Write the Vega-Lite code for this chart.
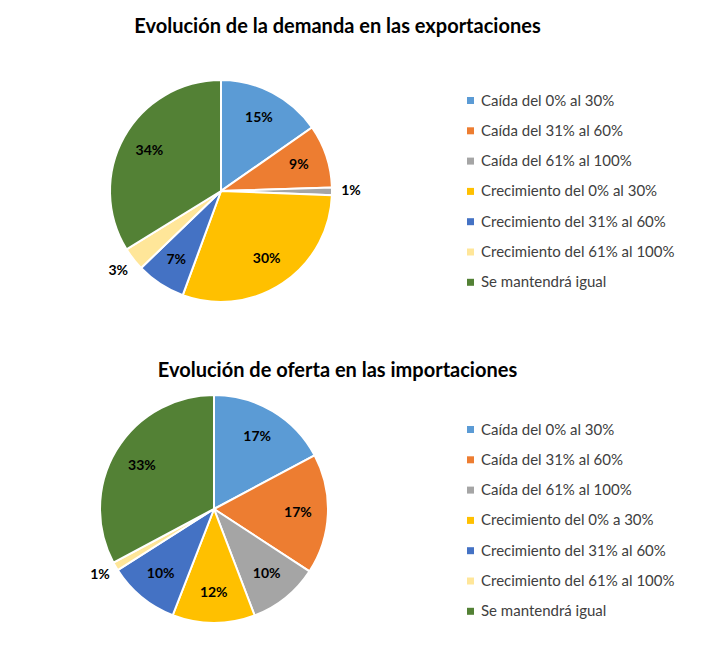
{
  "$schema": "https://vega.github.io/schema/vega-lite/v6.json",
  "background": "white",
  "padding": {"left": 0, "top": 16, "right": 0, "bottom": 0},
  "config": {"view": {"stroke": null}, "font": "Lato", "concat": {"spacing": 53}},
  "resolve": {"scale": {"color": "independent", "theta": "independent"}, "legend": {"color": "independent"}},
  "vconcat": [
    {
      "width": 442,
      "height": 222,
      "title": {"text": "Evolución de la demanda en las exportaciones", "frame": "bounds", "anchor": "middle", "fontSize": 20, "fontWeight": "bold", "color": "#000000", "offset": 32},
      "data": {"values": [
        {"orden": 1, "categoria": "Caída del 0% al 30%", "share": 0.153},
        {"orden": 2, "categoria": "Caída del 31% al 60%", "share": 0.092},
        {"orden": 3, "categoria": "Caída del 61% al 100%", "share": 0.011},
        {"orden": 4, "categoria": "Crecimiento del 0% al 30%", "share": 0.300},
        {"orden": 5, "categoria": "Crecimiento del 31% al 60%", "share": 0.072},
        {"orden": 6, "categoria": "Crecimiento del 61% al 100%", "share": 0.034},
        {"orden": 7, "categoria": "Se mantendrá igual", "share": 0.338}
      ]},
      "encoding": {
        "theta": {"field": "share", "type": "quantitative", "stack": true},
        "order": {"field": "orden", "type": "quantitative"}
      },
      "layer": [
        {
          "mark": {"type": "arc", "radius": 111, "stroke": "white", "strokeWidth": 2},
          "encoding": {
            "color": {
              "field": "categoria", "type": "nominal",
              "scale": {
                "domain": ["Caída del 0% al 30%", "Caída del 31% al 60%", "Caída del 61% al 100%", "Crecimiento del 0% al 30%", "Crecimiento del 31% al 60%", "Crecimiento del 61% al 100%", "Se mantendrá igual"],
                "range": ["#5B9BD5", "#ED7D31", "#A5A5A5", "#FFC000", "#4472C4", "#FFE699", "#538135"]
              },
              "legend": {"orient": "none", "legendX": 463, "legendY": 13, "title": null, "symbolType": "square", "symbolSize": 49, "symbolStrokeWidth": 0, "labelFontSize": 15, "labelLimit": 0, "labelColor": "#404040", "rowPadding": 14.3, "labelOffset": 3}
            }
          }
        },
        {
          "mark": {"type": "text", "radius": 82, "fontWeight": "bold", "fontSize": 14, "color": "#000000"},
          "encoding": {
            "text": {"condition": {"test": "datum.share >= 0.05", "field": "share", "type": "quantitative", "format": ".0%"}, "value": ""}
          }
        },
        {
          "mark": {"type": "text", "radius": 130, "fontWeight": "bold", "fontSize": 14, "color": "#000000"},
          "encoding": {
            "text": {"condition": {"test": "datum.share < 0.05", "field": "share", "type": "quantitative", "format": ".0%"}, "value": ""}
          }
        }
      ]
    },
    {
      "width": 428,
      "height": 228,
      "title": {"text": "Evolución de oferta en las importaciones", "frame": "bounds", "anchor": "middle", "fontSize": 20, "fontWeight": "bold", "color": "#000000", "offset": 8},
      "data": {"values": [
        {"orden": 1, "categoria": "Caída del 0% al 30%", "share": 0.172},
        {"orden": 2, "categoria": "Caída del 31% al 60%", "share": 0.170},
        {"orden": 3, "categoria": "Caída del 61% al 100%", "share": 0.100},
        {"orden": 4, "categoria": "Crecimiento del 0% a 30%", "share": 0.117},
        {"orden": 5, "categoria": "Crecimiento del 31% al 60%", "share": 0.101},
        {"orden": 6, "categoria": "Crecimiento del 61% al 100%", "share": 0.012},
        {"orden": 7, "categoria": "Se mantendrá igual", "share": 0.328}
      ]},
      "encoding": {
        "theta": {"field": "share", "type": "quantitative", "stack": true},
        "order": {"field": "orden", "type": "quantitative"}
      },
      "layer": [
        {
          "mark": {"type": "arc", "radius": 114, "stroke": "white", "strokeWidth": 2},
          "encoding": {
            "color": {
              "field": "categoria", "type": "nominal",
              "scale": {
                "domain": ["Caída del 0% al 30%", "Caída del 31% al 60%", "Caída del 61% al 100%", "Crecimiento del 0% a 30%", "Crecimiento del 31% al 60%", "Crecimiento del 61% al 100%", "Se mantendrá igual"],
                "range": ["#5B9BD5", "#ED7D31", "#A5A5A5", "#FFC000", "#4472C4", "#FFE699", "#538135"]
              },
              "legend": {"orient": "none", "legendX": 463, "legendY": 27, "title": null, "symbolType": "square", "symbolSize": 49, "symbolStrokeWidth": 0, "labelFontSize": 15, "labelLimit": 0, "labelColor": "#404040", "rowPadding": 14.3, "labelOffset": 3}
            }
          }
        },
        {
          "mark": {"type": "text", "radius": 84, "fontWeight": "bold", "fontSize": 14, "color": "#000000"},
          "encoding": {
            "text": {"condition": {"test": "datum.share >= 0.05", "field": "share", "type": "quantitative", "format": ".0%"}, "value": ""}
          }
        },
        {
          "mark": {"type": "text", "radius": 132, "fontWeight": "bold", "fontSize": 14, "color": "#000000"},
          "encoding": {
            "text": {"condition": {"test": "datum.share < 0.05", "field": "share", "type": "quantitative", "format": ".0%"}, "value": ""}
          }
        }
      ]
    }
  ]
}
